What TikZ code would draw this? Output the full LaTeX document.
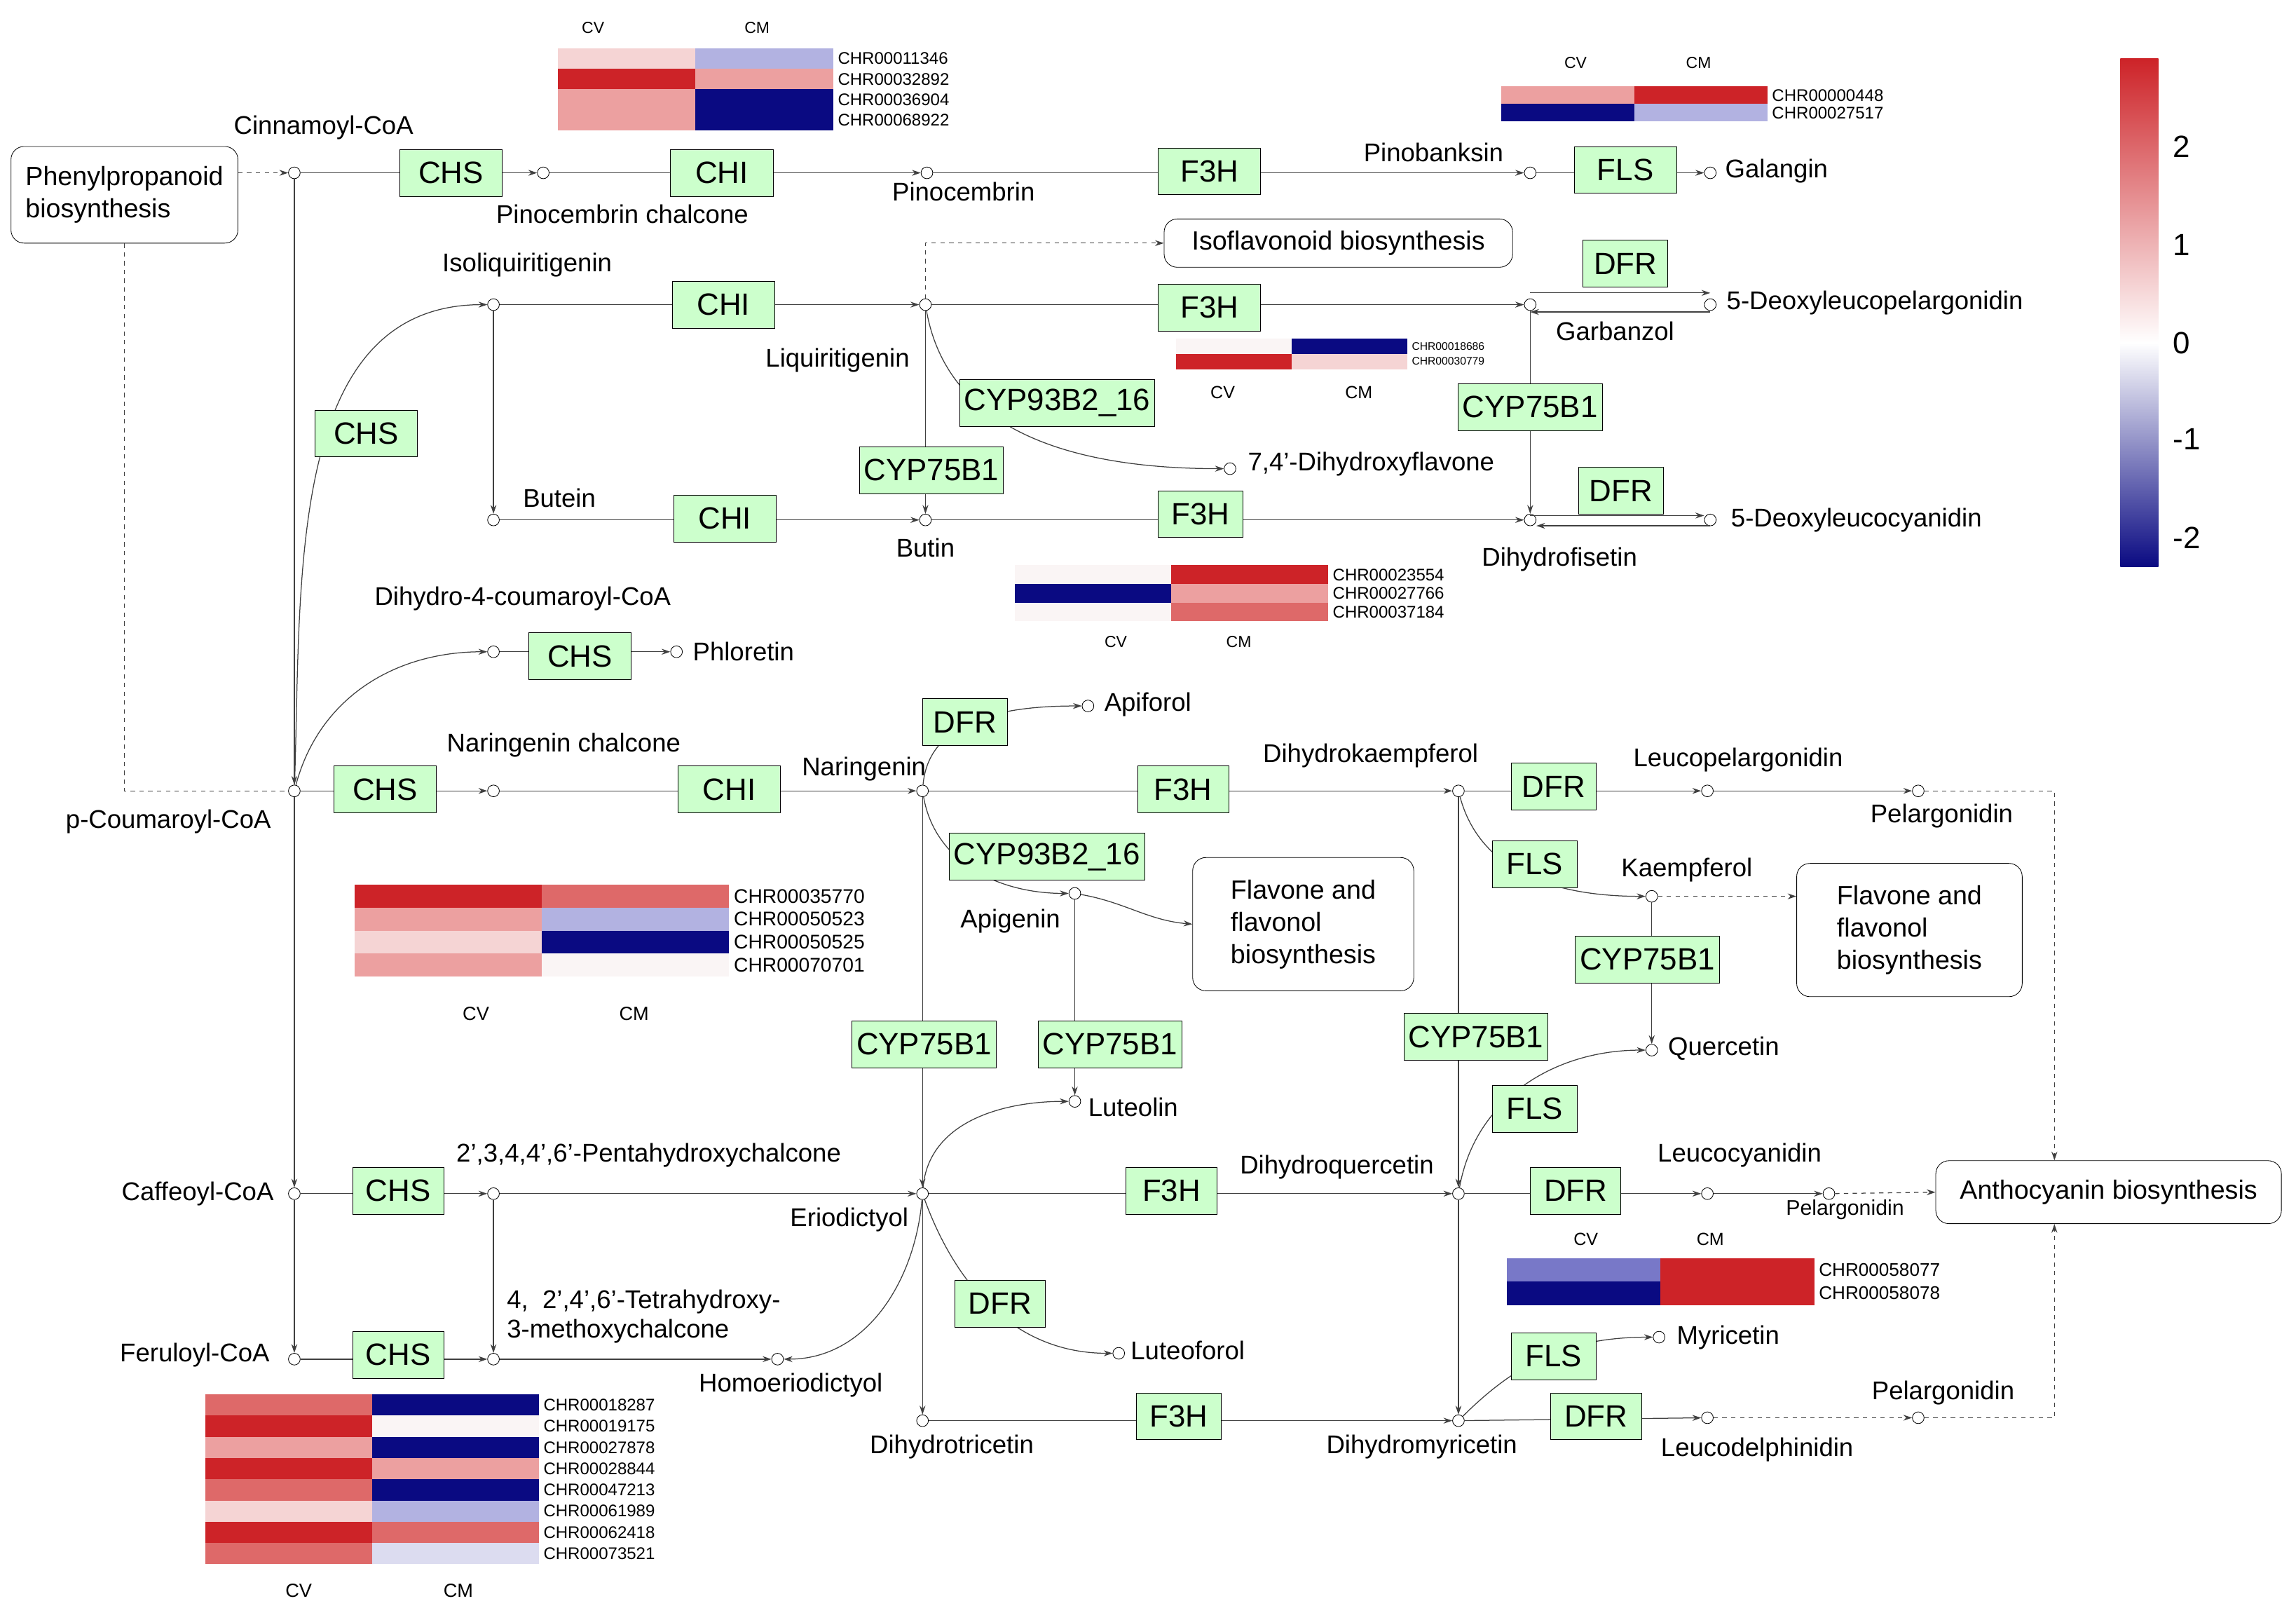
\documentclass[tikz,border=0pt]{standalone}
\usepackage{fontspec}
\setmainfont{Liberation Sans}
\usetikzlibrary{arrows.meta,positioning,calc}
\definecolor{r3}{RGB}{205,35,40}
\definecolor{r2}{RGB}{222,105,105}
\definecolor{r1}{RGB}{236,160,160}
\definecolor{r0}{RGB}{245,212,212}
\definecolor{b0}{RGB}{220,220,240}
\definecolor{b1}{RGB}{178,178,225}
\definecolor{b2}{RGB}{120,120,200}
\definecolor{b3}{RGB}{10,10,130}
\definecolor{w0}{RGB}{250,245,245}
\definecolor{enzg}{RGB}{204,255,204}
\newcommand\hmrow[8]{\fill[#5] (#1,#2) rectangle ++(#3,#4); \fill[#6] (#1+#3,#2) rectangle ++(#3,#4); \node[anchor=west,inner sep=0,font=#8] at (#1+2*#3+3,#2+#4/2) {#7};}
\tikzset{
 m/.style={circle,draw,fill=white,minimum size=8pt,inner sep=0},
 enz/.style={draw,fill=enzg,minimum width=70pt,minimum height=32pt,inner sep=3pt,font=\fontsize{21}{23}\selectfont},
 lab/.style={font=\fontsize{17.5}{20}\selectfont,inner sep=0},
 hh/.style={font=\fontsize{11}{12}\selectfont,inner sep=0},
 pbox/.style={draw,rounded corners=9pt,align=left,font=\fontsize{18}{22}\selectfont},
 ar/.style={-{Stealth[length=6pt,width=4pt]}},
 ln/.style={draw=black!75,line width=0.6pt},
}
\begin{document}
\begin{tikzpicture}[x=1pt,y=-1pt]
\useasboundingbox (0,0) rectangle (1568,1101);
% boxes
\node[pbox,minimum width=155pt,minimum height=66pt] (pheno) at (85,133) {Phenylpropanoid\\biosynthesis};
\node[pbox,minimum width=238pt,minimum height=33pt,align=center] (iso) at (914,166) {Isoflavonoid biosynthesis};
\node[pbox,minimum width=151pt,minimum height=91pt] (fl1) at (890,631) {Flavone and\\flavonol\\biosynthesis};
\node[pbox,minimum width=154pt,minimum height=91pt] (fl2) at (1304,635) {Flavone and\\flavonol\\biosynthesis};
\node[pbox,minimum width=236pt,minimum height=43pt,align=center] (antho) at (1440,814) {Anthocyanin biosynthesis};
% metabolites
\node[m] (cinn) at (201,118) {}; \node[lab] at (221,87) {Cinnamoyl-CoA};
\node[m] (pch) at (371,118) {}; \node[lab] at (425,146) {Pinocembrin chalcone};
\node[m] (pino) at (633,118) {}; \node[lab] at (658,131) {Pinocembrin};
\node[m] (pinob) at (1045,118) {}; \node[lab] at (979,104) {Pinobanksin};
\node[m] (gal) at (1168,118) {}; \node[lab,anchor=west] at (1178,117) {Galangin};
\node[m] (isoliq) at (337,208) {}; \node[lab] at (360,181) {Isoliquiritigenin};
\node[m] (liq) at (632,208) {}; \node[lab] at (572,246) {Liquiritigenin};
\node[m] (garb) at (1045,208) {}; \node[lab] at (1103,226) {Garbanzol};
\node[m] (dlp) at (1168,208) {}; \node[lab,anchor=west] at (1179,207) {5-Deoxyleucopelargonidin};
\node[m] (dhf) at (840,320) {}; \node[lab,anchor=west] at (852,317) {7,4'-Dihydroxyflavone};
\node[m] (butein) at (337,355) {}; \node[lab] at (382,340) {Butein};
\node[m] (butin) at (632,355) {}; \node[lab] at (632,374) {Butin};
\node[m] (dfis) at (1045,355) {}; \node[lab] at (1065,382) {Dihydrofisetin};
\node[m] (dlc) at (1168,355) {}; \node[lab,anchor=west] at (1182,355) {5-Deoxyleucocyanidin};
\node[m] (dh4) at (337,445) {}; \node[lab] at (357,409) {Dihydro-4-coumaroyl-CoA};
\node[m] (phlor) at (462,445) {}; \node[lab,anchor=west] at (473,445) {Phloretin};
\node[m] (pcoum) at (201,540) {}; \node[lab] at (115,561) {p-Coumaroyl-CoA};
\node[m] (narch) at (337,540) {}; \node[lab] at (385,509) {Naringenin chalcone};
\node[m] (nar) at (630,540) {}; \node[lab] at (590,525) {Naringenin};
\node[m] (apif) at (743,482) {}; \node[lab,anchor=west] at (754,481) {Apiforol};
\node[m] (dhk) at (996,540) {}; \node[lab] at (936,516) {Dihydrokaempferol};
\node[m] (lpel) at (1166,540) {}; \node[lab] at (1187,519) {Leucopelargonidin};
\node[m] (pel1) at (1310,540) {}; \node[lab] at (1326,557) {Pelargonidin};
\node[m] (api) at (734,610) {}; \node[lab] at (690,629) {Apigenin};
\node[m] (kae) at (1128,612) {}; \node[lab] at (1152,594) {Kaempferol};
\node[m] (que) at (1128,717) {}; \node[lab,anchor=west] at (1139,716) {Quercetin};
\node[m] (lut) at (734,752) {}; \node[lab,anchor=west] at (743,756) {Luteolin};
\node[m] (caf) at (201,815) {}; \node[lab] at (135,815) {Caffeoyl-CoA};
\node[m] (penta) at (337,815) {}; \node[lab] at (443,789) {2',3,4,4',6'-Pentahydroxychalcone};
\node[m] (eri) at (630,815) {}; \node[lab] at (580,833) {Eriodictyol};
\node[m] (dhq) at (996,815) {}; \node[lab] at (913,797) {Dihydroquercetin};
\node[m] (lcy) at (1166,815) {}; \node[lab] at (1188,789) {Leucocyanidin};
\node[m] (pel2) at (1249,815) {}; \node[lab,font=\fontsize{14.5}{16}\selectfont] at (1260,826) {Pelargonidin};
\node[m] (fer) at (201,928) {}; \node[lab] at (133,925) {Feruloyl-CoA};
\node[m] (tetra) at (337,928) {}; \node[lab,align=left,anchor=west] at (346,899) {4,\ \ 2',4',6'-Tetrahydroxy-\\3-methoxychalcone};
\node[m] (homo) at (531,928) {}; \node[lab] at (540,946) {Homoeriodictyol};
\node[m] (lfo) at (764,924) {}; \node[lab,anchor=west] at (772,922) {Luteoforol};
\node[m] (dtri) at (630,970) {}; \node[lab] at (650,988) {Dihydrotricetin};
\node[m] (dmyr) at (996,970) {}; \node[lab] at (971,988) {Dihydromyricetin};
\node[m] (myr) at (1133,913) {}; \node[lab,anchor=west] at (1145,913) {Myricetin};
\node[m] (ldel) at (1166,968) {}; \node[lab] at (1200,990) {Leucodelphinidin};
\node[m] (pel3) at (1310,968) {}; \node[lab] at (1327,951) {Pelargonidin};
\coordinate (c1) at (1403,540); \coordinate (c3) at (1403,968);
% edges
\begin{scope}[ln]
\draw[dashed,ar] (pheno.east |- cinn) -- (cinn);
\draw[dashed] (pheno.south) |- (pcoum);
\draw[ar] (cinn) -- (pch); \draw[ar] (pch) -- (pino); \draw[ar] (pino) -- (pinob); \draw[ar] (pinob) -- (gal);
\draw[ar] (cinn) -- (pcoum);
\draw[ar] (pcoum) to[out=88,in=180] (isoliq);
\draw[ar] (isoliq) -- (liq); \draw[ar] (isoliq) -- (butein);
\draw[dashed,ar] (liq) |- (iso.west);
\draw[ar] (liq) -- (garb);
\draw[ar] ([yshift=8pt]garb.center) -- ([yshift=8pt]dlp.center);
\draw[ar] ([yshift=-5pt]dlp.center) -- ([yshift=-5pt]garb.center);
\draw[ar] (liq) to[out=-80,in=180] (dhf);
\draw[ar] (liq) -- (butin); \draw[ar] (garb) -- (dfis);
\draw[ar] (butein) -- (butin); \draw[ar] (butin) -- (dfis);
\draw[ar] ([yshift=3pt]dfis.center) -- ([yshift=3pt]dlc.west);
\draw[ar] ([yshift=-4pt]dlc.center) -- ([yshift=-4pt]dfis.east);
\draw[ar] (pcoum) to[out=75,in=180] (dh4); \draw[ar] (dh4) -- (phlor);
\draw[ar] (pcoum) -- (narch); \draw[ar] (narch) -- (nar);
\draw[ar] (nar) to[out=85,in=180] (apif);
\draw[ar] (nar) -- (dhk); \draw[ar] (dhk) -- (lpel); \draw[ar] (lpel) -- (pel1);
\draw[dashed,ar] (pel1) -- (c1) -- (antho.north -| c1);
\draw[ar] (nar) to[out=-80,in=180] (api);
\draw[ar] (api) to[out=-10,in=175] (fl1.west);
\draw[ar] (api) -- (lut);
\draw[ar] (nar) -- (eri);
\draw[ar] (dhk) to[out=-75,in=180] (kae);
\draw[dashed,ar] (kae) -- (fl2.west |- kae);
\draw[ar] (kae) -- (que);
\draw[ar] (dhk) -- (dhq);
\draw[ar] (dhq) to[out=80,in=180] (que);
\draw[ar] (pcoum) -- (caf);
\draw[ar,line width=1pt] (caf) -- (fer);
\draw[ar] (caf) -- (penta); \draw[ar] (penta) -- (eri); \draw[ar] (penta) -- (tetra);
\draw[ar] (eri) to[out=85,in=180] (lut);
\draw[ar] (eri) -- (dhq); \draw[ar] (dhq) -- (lcy); \draw[ar] (lcy) -- (pel2);
\draw[dashed,ar] (pel2) -- (antho.west);
\draw[ar] (fer) -- (tetra); \draw[ar] (tetra) -- (homo);
\draw[ar] (eri) to[out=-95,in=0] (homo);
\draw[ar] (eri) to[out=-70,in=180] (lfo);
\draw[ar] (eri) -- (dtri); \draw[ar] (dtri) -- (dmyr);
\draw[ar] (dhq) -- (dmyr);
\draw[ar] (dmyr) to[out=45,in=180] (myr);
\draw[ar] (dmyr) -- (ldel);
\draw[dashed,ar] (ldel) -- (pel3);
\draw[dashed,ar] (pel3) -- (c3) -- (antho.south -| c3);
\end{scope}
% enzymes
\node[enz] (e1) at (308,118) {CHS};
\node[enz] (e2) at (493,118) {CHI};
\node[enz] (e3) at (826,117) {F3H};
\node[enz] (e4) at (1110,116) {FLS};
\node[enz] (e5) at (494,208) {CHI};
\node[enz] (e6) at (826,210) {F3H};
\node[enz,minimum width=58pt] (e7) at (1110,180) {DFR};
\node[enz] (e8) at (250,296) {CHS};
\node[enz] (e9) at (722,275) {CYP93B2\_16};
\node[enz] (e10) at (636,321) {CYP75B1};
\node[enz] (e11) at (1045,278) {CYP75B1};
\node[enz] (e12) at (495,354) {CHI};
\node[enz,minimum width=58pt] (e13) at (820,351) {F3H};
\node[enz,minimum width=58pt] (e14) at (1107,335) {DFR};
\node[enz] (e15) at (396,448) {CHS};
\node[enz] (e16) at (263,539) {CHS};
\node[enz] (e17) at (498,539) {CHI};
\node[enz,minimum width=58pt] (e18) at (659,493) {DFR};
\node[enz,minimum width=62pt] (e19) at (808,539) {F3H};
\node[enz,minimum width=58pt] (e20) at (1061,537) {DFR};
\node[enz] (e21) at (715,585) {CYP93B2\_16};
\node[enz,minimum width=58pt] (e22) at (1048,590) {FLS};
\node[enz] (e23) at (1125,655) {CYP75B1};
\node[enz] (e24) at (631,713) {CYP75B1};
\node[enz] (e25) at (758,713) {CYP75B1};
\node[enz] (e26) at (1008,708) {CYP75B1};
\node[enz,minimum width=58pt] (e27) at (1048,757) {FLS};
\node[enz,minimum width=62pt] (e28) at (272,813) {CHS};
\node[enz,minimum width=62pt] (e29) at (800,813) {F3H};
\node[enz,minimum width=62pt] (e30) at (1076,813) {DFR};
\node[enz,minimum width=62pt] (e31) at (683,890) {DFR};
\node[enz,minimum width=62pt] (e32) at (272,925) {CHS};
\node[enz,minimum width=58pt] (e33) at (1061,926) {FLS};
\node[enz,minimum width=58pt] (e34) at (805,967) {F3H};
\node[enz,minimum width=62pt] (e35) at (1090,967) {DFR};
% heatmaps
\node[hh] at (405,19) {CV}; \node[hh] at (517,19) {CM};
\hmrow{381}{33}{94}{14}{r0}{b1}{CHR00011346}{\fontsize{11.5}{12}\selectfont}
\hmrow{381}{47}{94}{14}{r3}{r1}{CHR00032892}{\fontsize{11.5}{12}\selectfont}
\hmrow{381}{61}{94}{14}{r1}{b3}{CHR00036904}{\fontsize{11.5}{12}\selectfont}
\hmrow{381}{75}{94}{14}{r1}{b3}{CHR00068922}{\fontsize{11.5}{12}\selectfont}
\node[hh] at (1076,43) {CV}; \node[hh] at (1160,43) {CM};
\hmrow{1025}{59}{91}{12}{r1}{r3}{CHR00000448}{\fontsize{11.5}{12}\selectfont}
\hmrow{1025}{71}{91}{12}{b3}{b1}{CHR00027517}{\fontsize{11.5}{12}\selectfont}
\hmrow{803}{231}{79}{10.5}{w0}{b3}{CHR00018686}{\fontsize{7.5}{8}\selectfont}
\hmrow{803}{241.5}{79}{10.5}{r3}{r0}{CHR00030779}{\fontsize{7.5}{8}\selectfont}
\node[hh,font=\fontsize{12}{13}\selectfont] at (835,268) {CV}; \node[hh,font=\fontsize{12}{13}\selectfont] at (928,268) {CM};
\hmrow{693}{386}{107}{12.7}{w0}{r3}{CHR00023554}{\fontsize{11.5}{12}\selectfont}
\hmrow{693}{398.7}{107}{12.7}{b3}{r1}{CHR00027766}{\fontsize{11.5}{12}\selectfont}
\hmrow{693}{411.4}{107}{12.7}{w0}{r2}{CHR00037184}{\fontsize{11.5}{12}\selectfont}
\node[hh] at (762,438) {CV}; \node[hh] at (846,438) {CM};
\hmrow{242}{604}{128}{15.7}{r3}{r2}{CHR00035770}{\fontsize{13.5}{14}\selectfont}
\hmrow{242}{619.7}{128}{15.7}{r1}{b1}{CHR00050523}{\fontsize{13.5}{14}\selectfont}
\hmrow{242}{635.4}{128}{15.7}{r0}{b3}{CHR00050525}{\fontsize{13.5}{14}\selectfont}
\hmrow{242}{651.1}{128}{15.7}{r1}{w0}{CHR00070701}{\fontsize{13.5}{14}\selectfont}
\node[hh,font=\fontsize{13}{14}\selectfont] at (325,692) {CV}; \node[hh,font=\fontsize{13}{14}\selectfont] at (433,692) {CM};
\node[hh,font=\fontsize{12}{13}\selectfont] at (1083,846) {CV}; \node[hh,font=\fontsize{12}{13}\selectfont] at (1168,846) {CM};
\hmrow{1029}{859}{105}{16}{b2}{r3}{CHR00058077}{\fontsize{12.5}{13}\selectfont}
\hmrow{1029}{875}{105}{16}{b3}{r3}{CHR00058078}{\fontsize{12.5}{13}\selectfont}
\hmrow{140}{952}{114}{14.5}{r2}{b3}{CHR00018287}{\fontsize{11.5}{12}\selectfont}
\hmrow{140}{966.5}{114}{14.5}{r3}{w0}{CHR00019175}{\fontsize{11.5}{12}\selectfont}
\hmrow{140}{981}{114}{14.5}{r1}{b3}{CHR00027878}{\fontsize{11.5}{12}\selectfont}
\hmrow{140}{995.5}{114}{14.5}{r3}{r1}{CHR00028844}{\fontsize{11.5}{12}\selectfont}
\hmrow{140}{1010}{114}{14.5}{r2}{b3}{CHR00047213}{\fontsize{11.5}{12}\selectfont}
\hmrow{140}{1024.5}{114}{14.5}{r0}{b1}{CHR00061989}{\fontsize{11.5}{12}\selectfont}
\hmrow{140}{1039}{114}{14.5}{r3}{r2}{CHR00062418}{\fontsize{11.5}{12}\selectfont}
\hmrow{140}{1053.5}{114}{14.5}{r2}{b0}{CHR00073521}{\fontsize{11.5}{12}\selectfont}
\node[hh,font=\fontsize{13}{14}\selectfont] at (204,1086) {CV}; \node[hh,font=\fontsize{13}{14}\selectfont] at (313,1086) {CM};
% colour bar
\shade[top color=r3,bottom color=white] (1448,40) rectangle (1474,234);
\shade[top color=white,bottom color=b3] (1448,234) rectangle (1474,387);
\foreach \v/\yy in {2/100,1/167,0/234,-1/300,-2/367}
  \node[lab,font=\fontsize{21}{23}\selectfont,anchor=west] at (1484,\yy) {\v};
\end{tikzpicture}
\end{document}
